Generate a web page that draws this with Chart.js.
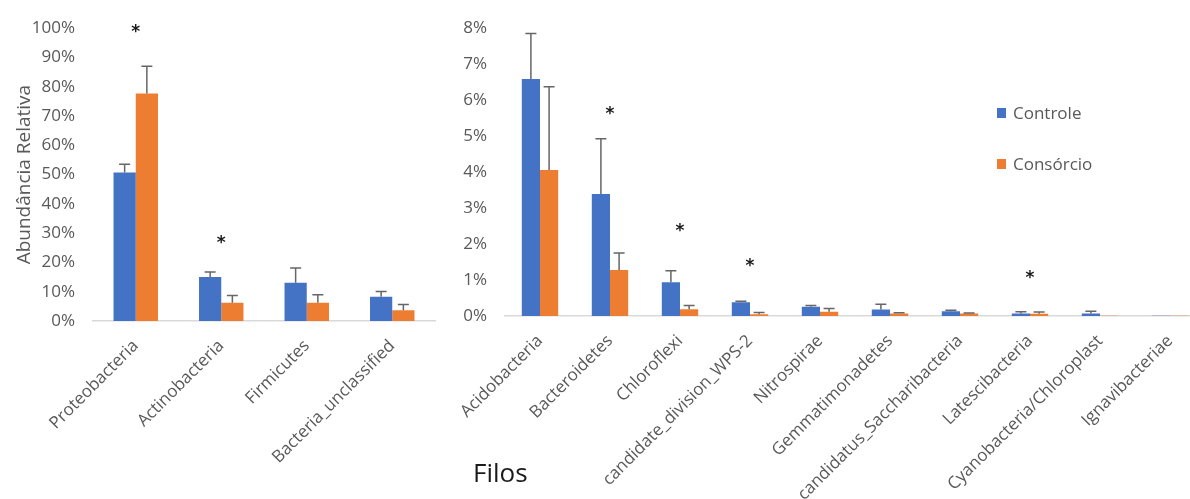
<!DOCTYPE html>
<html lang="pt">
<head>
<meta charset="utf-8">
<title>Abundância relativa dos filos</title>
<script src="https://cdn.jsdelivr.net/npm/chart.js@4.4.1/dist/chart.umd.min.js"></script>
<style>
  html, body { margin: 0; padding: 0; background: #ffffff; overflow: hidden; width: 1190px; height: 499px; }
  #wrap { position: relative; width: 1190px; height: 499px; overflow: hidden; }
  canvas { position: absolute; top: 0; }
  #leftChart { left: 0; }
  #rightChart { left: 440px; }
  .legend-item { position: absolute; left: 997px; font-family: "Open Sans", sans-serif; font-size: 17px; line-height: 17px; color: #595959; white-space: nowrap; }
  .legend-item .sw { position: absolute; left: 0; width: 9px; height: 10px; }
  .legend-item .lbl { position: absolute; left: 16px; top: 0; }
  #filos { position: absolute; left: 473px; top: 459px; font-family: "Open Sans", sans-serif; font-size: 26px; line-height: 26px; color: #1a1a1a; }
</style>
</head>
<body>
<div id="wrap">
  <canvas id="leftChart" width="450" height="499"></canvas>
  <canvas id="rightChart" width="775" height="499"></canvas>
  <div class="legend-item" style="top:104px;"><span class="sw" style="top:4px;background:#4472C4;"></span><span class="lbl">Controle</span></div>
  <div class="legend-item" style="top:155px;"><span class="sw" style="top:4px;background:#ED7D31;"></span><span class="lbl">Consórcio</span></div>
  <div id="filos">Filos</div>
</div>
<script>
// Major phyla (percent relative abundance, mean and positive standard deviation)
const majorPhyla = ['Proteobacteria', 'Actinobacteria', 'Firmicutes', 'Bacteria_unclassified'];
const majorControle = [50.7, 15.0, 13.1, 8.3];
const majorControleSd = [2.8, 1.7, 5.0, 1.8];
const majorConsorcio = [77.7, 6.2, 6.2, 3.7];
const majorConsorcioSd = [9.3, 2.5, 2.8, 1.9];
// Height (percent) of the significance marks, null where there is none
const majorSignif = [99.8, 27.8, null, null];
const majorTicks = { max: 100, step: 10 };

// Minor phyla
const minorPhyla = ['Acidobacteria', 'Bacteroidetes', 'Chloroflexi', 'candidate_division_WPS-2', 'Nitrospirae',
  'Gemmatimonadetes', 'candidatus_Saccharibacteria', 'Latescibacteria', 'Cyanobacteria/Chloroplast', 'Ignavibacteriae'];
const minorControle = [6.59, 3.39, 0.94, 0.38, 0.26, 0.18, 0.13, 0.07, 0.07, 0.01];
const minorControleSd = [1.26, 1.54, 0.32, 0.03, 0.03, 0.15, 0.03, 0.05, 0.06, 0.0];
const minorConsorcio = [4.06, 1.28, 0.19, 0.05, 0.12, 0.07, 0.07, 0.06, 0.01, 0.005];
const minorConsorcioSd = [2.31, 0.47, 0.10, 0.05, 0.09, 0.02, 0.01, 0.05, 0.0, 0.0];
const minorSignif = [null, 5.72, 2.47, 1.48, null, null, null, 1.15, null, null];
const minorTicks = { max: 8, step: 1 };

const seriesNames = ['Controle', 'Consórcio'];
const seriesColors = ['#4472C4', '#ED7D31'];

const FONT = '"Open Sans", sans-serif';
const GREY_TEXT = '#595959';

// Draws the positive error whisker with a cap above each bar
const errorBarsPlugin = {
  id: 'errorBars',
  afterDatasetsDraw(chart) {
    const ctx = chart.ctx;
    const yScale = chart.scales.y;
    ctx.save();
    ctx.strokeStyle = '#666666';
    ctx.lineWidth = 1.5;
    chart.data.datasets.forEach((ds, i) => {
      const meta = chart.getDatasetMeta(i);
      meta.data.forEach((bar, j) => {
        const sd = ds.sd[j];
        if (!sd) return;
        const top = yScale.getPixelForValue(ds.data[j] + sd);
        const cap = 5.5;
        ctx.beginPath();
        ctx.moveTo(bar.x, bar.y);
        ctx.lineTo(bar.x, top);
        ctx.moveTo(bar.x - cap, top);
        ctx.lineTo(bar.x + cap, top);
        ctx.stroke();
      });
    });
    ctx.restore();
  }
};

// Asterisks marking significant differences, centred on each category
const signifPlugin = {
  id: 'signif',
  afterDraw(chart, args, opts) {
    const ctx = chart.ctx;
    const xs = chart.scales.x, ys = chart.scales.y;
    ctx.save();
    ctx.font = 'bold 17px "DejaVu Sans", sans-serif';
    ctx.fillStyle = '#1a1a1a';
    ctx.textAlign = 'center';
    ctx.textBaseline = 'alphabetic';
    const m = ctx.measureText('*');
    const shift = (m.actualBoundingBoxAscent - m.actualBoundingBoxDescent) / 2;
    opts.marks.forEach((v, j) => {
      if (v === null || v === undefined) return;
      ctx.fillText('*', xs.getPixelForValue(j), ys.getPixelForValue(v) + shift);
    });
    ctx.restore();
  }
};

function makeChart(canvasId, cats, ctrl, ctrlSd, cons, consSd, marks, ticks, cfg) {
  return new Chart(document.getElementById(canvasId), {
    type: 'bar',
    data: {
      labels: cats,
      datasets: [
        { label: seriesNames[0], data: ctrl, sd: ctrlSd, backgroundColor: seriesColors[0], borderWidth: 0 },
        { label: seriesNames[1], data: cons, sd: consSd, backgroundColor: seriesColors[1], borderWidth: 0 }
      ]
    },
    options: {
      responsive: false,
      animation: false,
      events: [],
      categoryPercentage: 0.52,
      barPercentage: 1.0,
      layout: { padding: cfg.padding },
      plugins: {
        legend: { display: false },
        tooltip: { enabled: false },
        signif: { marks: marks }
      },
      scales: {
        x: {
          grid: { display: false, drawTicks: false },
          border: { display: true, color: '#d9d9d9', width: 1.5 },
          ticks: {
            autoSkip: false, minRotation: 45, maxRotation: 45, padding: 15,
            color: GREY_TEXT, font: { family: FONT, size: 17 }
          },
          afterFit: s => { s.height = cfg.xHeight; }
        },
        y: {
          min: 0, max: ticks.max,
          grid: { display: false, drawTicks: false },
          border: { display: false },
          ticks: {
            stepSize: ticks.step, padding: 18,
            color: GREY_TEXT, font: { family: FONT, size: 17 },
            callback: v => v + '%'
          },
          title: cfg.yTitle ? {
            display: true, text: cfg.yTitle, color: GREY_TEXT,
            font: { family: FONT, size: 19 }, padding: { top: 3, bottom: 0 }
          } : { display: false },
          afterFit: s => { s.width = cfg.yWidth; }
        }
      }
    },
    plugins: [errorBarsPlugin, signifPlugin]
  });
}

makeChart('leftChart', majorPhyla, majorControle, majorControleSd, majorConsorcio, majorConsorcioSd, majorSignif, majorTicks,
  { padding: { left: 10, right: 15, top: 27, bottom: 0 }, xHeight: 178, yWidth: 83, yTitle: 'Abundância Relativa' });

makeChart('rightChart', minorPhyla, minorControle, minorControleSd, minorConsorcio, minorConsorcioSd, minorSignif, minorTicks,
  { padding: { left: 0, right: 10, top: 25, bottom: 0 }, xHeight: 183, yWidth: 65, yTitle: null });
</script>
</body>
</html>
